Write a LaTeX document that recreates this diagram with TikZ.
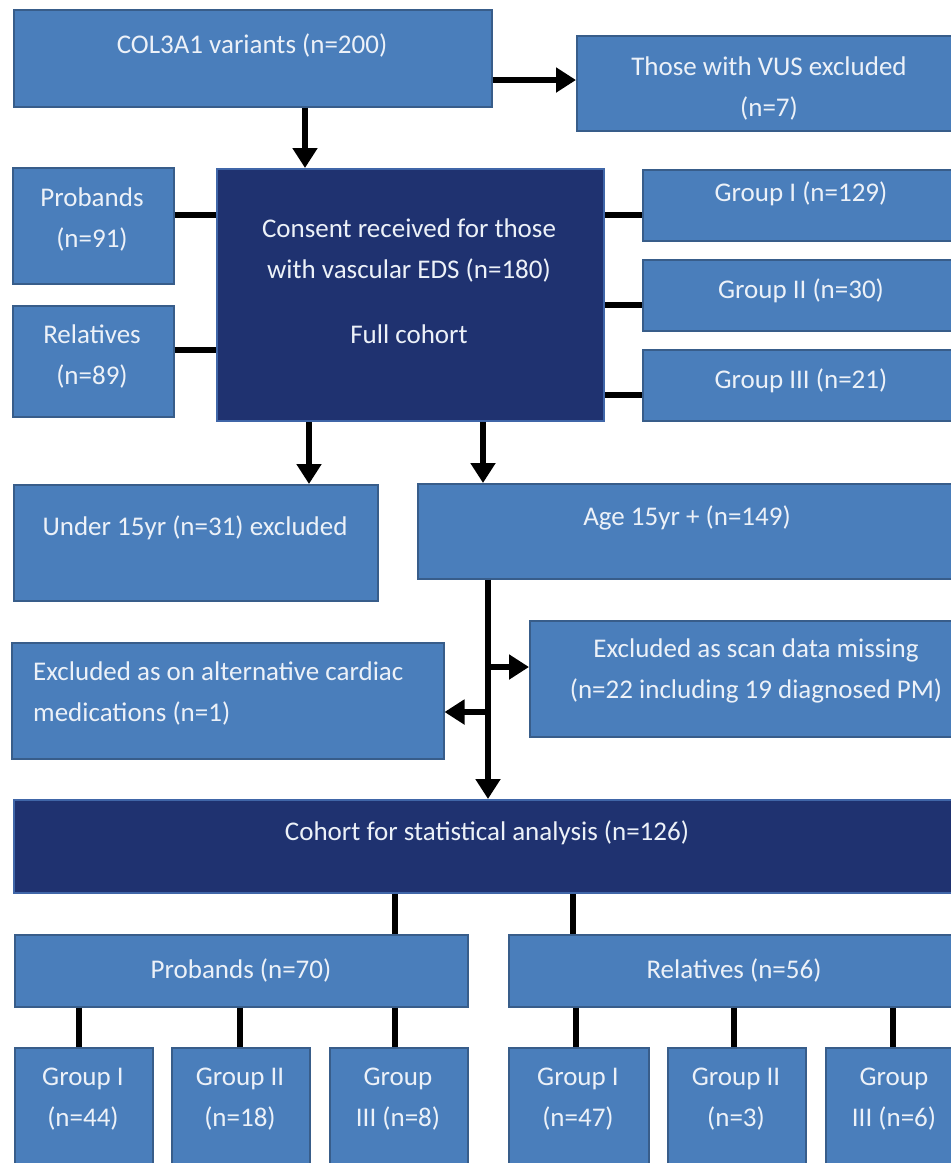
\documentclass[tikz,border=0pt]{standalone}
\usepackage{fontspec}
\setmainfont{Carlito}
\usetikzlibrary{arrows.meta}
\definecolor{boxblue}{RGB}{74,126,187}
\definecolor{boxedge}{RGB}{56,93,138}
\definecolor{navy}{RGB}{31,50,112}
\definecolor{navyedge}{RGB}{64,102,168}
\definecolor{txtc}{RGB}{236,241,248}
\begin{document}
\begin{tikzpicture}[x=1pt,y=-1pt,
  lbox/.style={draw=boxedge,fill=boxblue,line width=1.5pt,rectangle,inner sep=0pt,anchor=north west},
  dbox/.style={draw=navyedge,fill=navy,line width=2pt,rectangle,inner sep=0pt,anchor=north west},
  lbl/.style={text=txtc,font=\fontsize{27}{41}\selectfont,align=center,inner sep=0pt},
  conn/.style={line width=6.5pt},
  arr/.style={line width=6pt,-{Triangle[width=24pt,length=20pt]}}]
\useasboundingbox (0,0) rectangle (951,1163);
\clip (0,0) rectangle (951,1163);
\fill[white] (0,0) rectangle (951,1163);
% boxes
\node[lbox,minimum width=478pt,minimum height=97pt] (col) at (13,9) {};
\node[lbox,minimum width=386pt,minimum height=95pt] (vus) at (576,35) {};
\node[lbox,minimum width=161pt,minimum height=116pt] (prob) at (12,167) {};
\node[lbox,minimum width=161pt,minimum height=111pt] (rel) at (12,305) {};
\node[dbox,minimum width=387pt,minimum height=252pt] (cons) at (216,168) {};
\node[lbox,minimum width=320pt,minimum height=71pt] (g1) at (642,169) {};
\node[lbox,minimum width=320pt,minimum height=71pt] (g2) at (642,259) {};
\node[lbox,minimum width=320pt,minimum height=71pt] (g3) at (642,349) {};
\node[lbox,minimum width=364pt,minimum height=116pt] (u15) at (13,484) {};
\node[lbox,minimum width=545pt,minimum height=95pt] (age) at (417,483) {};
\node[lbox,minimum width=432pt,minimum height=116pt] (card) at (11,642) {};
\node[lbox,minimum width=433pt,minimum height=116pt] (scan) at (529,620) {};
\node[dbox,minimum width=949pt,minimum height=93pt] (coh) at (13,799) {};
\node[lbox,minimum width=453pt,minimum height=72pt] (p70) at (14,934) {};
\node[lbox,minimum width=454pt,minimum height=72pt] (r56) at (508,934) {};
\node[lbox,minimum width=138pt,minimum height=128pt] (b1) at (14,1047) {};
\node[lbox,minimum width=138pt,minimum height=128pt] (b2) at (171,1047) {};
\node[lbox,minimum width=138pt,minimum height=128pt] (b3) at (329,1047) {};
\node[lbox,minimum width=140pt,minimum height=128pt] (b4) at (508,1047) {};
\node[lbox,minimum width=138pt,minimum height=128pt] (b5) at (667,1047) {};
\node[lbox,minimum width=138pt,minimum height=128pt] (b6) at (825,1047) {};
% texts
\node[lbl] (tcol) at (252,45) {COL3A1 variants (n=200)};
\node[lbl] (tvus) at (769,88) {Those with VUS excluded\\(n=7)};
\node[lbl] (tprob) at (92,219) {Probands\\(n=91)};
\node[lbl] (trel) at (92,356) {Relatives\\(n=89)};
\node[lbl] (tcons) at (409,281) {Consent received for those\\with vascular EDS (n=180)\\[24pt]Full cohort};
\node[lbl] (tg1) at (801,194) {Group I (n=129)};
\node[lbl] (tg2) at (801,291) {Group II (n=30)};
\node[lbl] (tg3) at (801,381) {Group III (n=21)};
\node[lbl] (tu15) at (195,528) {Under 15yr (n=31) excluded};
\node[lbl] (tage) at (687,518) {Age 15yr + (n=149)};
\node[lbl,align=left,anchor=west] (tcard) at (33,693) {Excluded as on alternative cardiac\\medications (n=1)};
\node[lbl] (tscan) at (756,671) {Excluded as scan data missing\\(n=22 including 19 diagnosed PM)};
\node[lbl] (tcoh) at (487,833) {Cohort for statistical analysis (n=126)};
\node[lbl] (tp70) at (241,970) {Probands (n=70)};
\node[lbl] (tr56) at (734,970) {Relatives (n=56)};
\node[lbl] (tb1) at (83,1099) {Group I\\(n=44)};
\node[lbl] (tb2) at (240,1099) {Group II\\(n=18)};
\node[lbl] (tb3) at (398,1099) {Group\\III (n=8)};
\node[lbl] (tb4) at (578,1099) {Group I\\(n=47)};
\node[lbl] (tb5) at (736,1099) {Group II\\(n=3)};
\node[lbl] (tb6) at (894,1099) {Group\\III (n=6)};
% helper coordinates
\coordinate (x305) at (305,0);
\coordinate (x309) at (309,0);
\coordinate (x483) at (483,0);
\coordinate (x488) at (488,0);
\coordinate (x395) at (395,0);
\coordinate (x573) at (573,0);
\coordinate (x79) at (79,0);
\coordinate (x240) at (240,0);
\coordinate (x576) at (576,0);
\coordinate (x734) at (734,0);
\coordinate (x893) at (893,0);
\coordinate (y80) at (0,80);
\coordinate (y215) at (0,215);
\coordinate (y350) at (0,350);
\coordinate (y305) at (0,305);
\coordinate (y395) at (0,395);
\coordinate (j1) at (488,667);
\coordinate (j2) at (488,712);
% connectors
\draw[arr] (col.south -| x305) -- (cons.north -| x305);
\draw[arr] (col.east |- y80) -- (vus.west |- y80);
\draw[conn] (prob.east |- y215) -- (cons.west |- y215);
\draw[conn] (rel.east |- y350) -- (cons.west |- y350);
\draw[conn] (cons.east |- y215) -- (g1.west |- y215);
\draw[conn] (cons.east |- y305) -- (g2.west |- y305);
\draw[conn] (cons.east |- y395) -- (g3.west |- y395);
\draw[arr] (cons.south -| x309) -- (u15.north -| x309);
\draw[arr] (cons.south -| x483) -- (age.north -| x483);
\draw[arr] (age.south -| x488) -- (coh.north -| x488);
\draw[arr] (j1) -- (scan.west |- j1);
\draw[arr] (j2) -- (card.east |- j2);
\draw[conn] (coh.south -| x395) -- (p70.north -| x395);
\draw[conn] (coh.south -| x573) -- (r56.north -| x573);
\draw[conn] (p70.south -| x79) -- (b1.north -| x79);
\draw[conn] (p70.south -| x240) -- (b2.north -| x240);
\draw[conn] (p70.south -| x395) -- (b3.north -| x395);
\draw[conn] (r56.south -| x576) -- (b4.north -| x576);
\draw[conn] (r56.south -| x734) -- (b5.north -| x734);
\draw[conn] (r56.south -| x893) -- (b6.north -| x893);
\end{tikzpicture}
\end{document}
